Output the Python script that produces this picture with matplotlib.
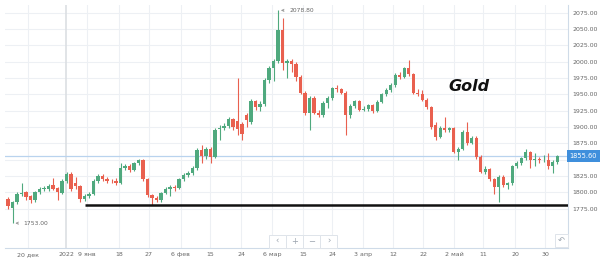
import numpy as np
import matplotlib
matplotlib.use("Agg")
import matplotlib.pyplot as plt
import matplotlib.transforms as mtransforms
from matplotlib.patches import Rectangle

# daily candles, gold futures, Dec 2021 - Jun 2022
opens = [1790, 1776, 1785, 1797, 1800, 1794, 1788, 1800, 1805, 1806,
         1812, 1807, 1799, 1818, 1829, 1815, 1810, 1790, 1795, 1798,
         1818, 1825, 1821, 1818, 1818, 1815, 1838, 1841, 1835, 1845,
         1850, 1820, 1796, 1792, 1788, 1799, 1805, 1809, 1807, 1820,
         1827, 1830, 1838, 1865, 1856, 1866, 1855, 1897, 1899, 1902,
         1912, 1910, 1905, 1918, 1908, 1940, 1931, 1936, 1972, 1990,
         2001, 2048, 1998, 2001, 1997, 1977, 1953, 1922, 1945, 1922,
         1919, 1937, 1945, 1960, 1958, 1953, 1918, 1932, 1940, 1927,
         1928, 1934, 1925, 1939, 1950, 1957, 1965, 1980, 1977, 1990,
         1981, 1953, 1950, 1942, 1931, 1903, 1885, 1899, 1896, 1898,
         1862, 1867, 1893, 1876, 1884, 1855, 1832, 1836, 1820, 1808,
         1824, 1812, 1814, 1840, 1845, 1853, 1862, 1850, 1851, 1849,
         1850, 1840, 1846]
highs = [1793, 1787, 1800, 1815, 1803, 1796, 1803, 1808, 1810, 1813,
         1822, 1809, 1820, 1831, 1831, 1824, 1812, 1797, 1800, 1821,
         1828, 1828, 1823, 1821, 1822, 1845, 1844, 1843, 1847, 1852,
         1852, 1822, 1798, 1795, 1801, 1808, 1812, 1812, 1822, 1830,
         1833, 1840, 1868, 1872, 1870, 1869, 1898, 1903, 1906, 1915,
         1914, 1975, 1908, 1922, 1943, 1942, 1940, 1975, 1993, 2005,
         2078.8, 2067, 2005, 2004, 1999, 1980, 1955, 1948, 1947, 1926,
         1940, 1948, 1962, 1964, 1960, 1956, 1936, 1942, 1941, 1932,
         1936, 1936, 1941, 1953, 1960, 1968, 1983, 1985, 1992, 2003,
         1983, 1959, 1957, 1944, 1933, 1908, 1901, 1915, 1900, 1900,
         1870, 1896, 1908, 1887, 1886, 1857, 1840, 1838, 1822, 1826,
         1827, 1816, 1842, 1848, 1855, 1866, 1864, 1860, 1855, 1858,
         1860, 1849, 1858]
lows = [1775, 1753, 1783, 1794, 1789, 1784, 1786, 1798, 1802, 1803,
        1804, 1788, 1797, 1815, 1803, 1806, 1786, 1787, 1791, 1796,
        1815, 1818, 1814, 1814, 1812, 1813, 1834, 1832, 1833, 1842,
        1818, 1793, 1781, 1785, 1786, 1797, 1795, 1803, 1805, 1817,
        1824, 1827, 1835, 1845, 1852, 1845, 1853, 1880, 1895, 1899,
        1895, 1888, 1880, 1900, 1905, 1926, 1925, 1933, 1968, 1970,
        1998, 1988, 1975, 1985, 1970, 1950, 1918, 1896, 1920, 1915,
        1916, 1930, 1942, 1954, 1950, 1888, 1914, 1929, 1925, 1924,
        1925, 1922, 1923, 1937, 1947, 1954, 1962, 1974, 1975, 1978,
        1950, 1948, 1940, 1928, 1897, 1880, 1883, 1893, 1893, 1860,
        1850, 1865, 1873, 1874, 1852, 1830, 1828, 1817, 1797, 1786,
        1808, 1806, 1812, 1837, 1842, 1850, 1838, 1840, 1845, 1846,
        1836, 1830, 1843]
closes = [1780, 1785, 1797, 1799, 1793, 1788, 1800, 1805, 1807, 1810,
          1806, 1800, 1818, 1829, 1806, 1810, 1790, 1795, 1798, 1818,
          1825, 1821, 1818, 1817, 1815, 1838, 1841, 1835, 1845, 1850,
          1820, 1796, 1791, 1788, 1799, 1806, 1809, 1807, 1820, 1827,
          1830, 1838, 1865, 1856, 1866, 1855, 1895, 1899, 1902, 1912,
          1900, 1897, 1890, 1911, 1940, 1931, 1936, 1972, 1990, 2001,
          2048, 1998, 2001, 1997, 1977, 1953, 1922, 1945, 1922, 1919,
          1937, 1945, 1960, 1958, 1953, 1918, 1932, 1940, 1927, 1928,
          1934, 1925, 1939, 1950, 1957, 1965, 1980, 1977, 1990, 1981,
          1953, 1950, 1942, 1931, 1900, 1885, 1899, 1896, 1898, 1862,
          1867, 1893, 1876, 1884, 1855, 1832, 1836, 1820, 1809, 1824,
          1812, 1814, 1840, 1845, 1853, 1862, 1850, 1851, 1849, 1850,
          1840, 1846, 1855.6]

tick_labels = ["20 дек", "2022", "9 янв", "18", "27", "6 фев", "15", "24",
               "6 мар", "15", "24", "3 апр", "12", "22", "2 май", "11",
               "20", "30"]
# tick positions in candle-index units
tick_pos = [4.4, 12.9, 17.6, 24.7, 31.3, 38.4, 44.9, 51.8, 58.7, 65.6,
            72.0, 78.9, 85.6, 92.2, 99.1, 105.6, 112.7, 119.3]
price_levels = [1775, 1800, 1825, 1850, 1875, 1900, 1925, 1950, 1975,
                2000, 2025, 2050, 2075]
last_price = 1855.60
support = 1781
max_price = 2078.80
min_price = 1753.00

GREEN = "#4fa97e"
RED = "#e9604f"
GRID = "#edf0f4"
AXIS = "#cfdbe8"
TXT = "#666666"

o = np.array(opens, dtype=float)
h = np.array(highs, dtype=float)
l = np.array(lows, dtype=float)
c = np.array(closes, dtype=float)
x = np.arange(len(c))
up = c >= o
colors = np.where(up, GREEN, RED)

W, H = 600, 266
fig = plt.figure(figsize=(6, 2.66), dpi=100)
ax = fig.add_axes([5 / W, 1 - 248 / H, 563 / W, 243 / H])
ax.set_xlim(-0.67, 124.4)
ax.set_ylim(1715, 2087)

for p in price_levels:
    ax.axhline(p, color=GRID, lw=0.8, zorder=0)
for tp, lab in zip(tick_pos, tick_labels):
    if lab == "2022":
        ax.axvline(tp, color="#dcdfe3", lw=1.2, zorder=0)
    else:
        ax.axvline(tp, color=GRID, lw=0.8, zorder=0)

ax.vlines(x, l, h, colors=colors, lw=0.8, zorder=2)
body = np.maximum(np.abs(c - o), 1.2)
ax.bar(x, body, bottom=np.minimum(o, c), width=0.72, color=colors,
       linewidth=0, zorder=3)

ax.axhline(last_price, color="#b9d3ee", lw=0.9, zorder=1)
ax.hlines(support, 17.2, 124.4, colors="#111111", lw=1.8, zorder=4)

ax.annotate(f"{max_price:.2f}", xy=(60, max_price), xytext=(62.5, max_price),
            fontsize=4.3, color=TXT, va="center",
            arrowprops=dict(arrowstyle="->", color="#999999", lw=0.6,
                            mutation_scale=4))
ax.annotate(f"{min_price:.2f}", xy=(1, min_price), xytext=(3.5, min_price),
            fontsize=4.3, color=TXT, va="center",
            arrowprops=dict(arrowstyle="->", color="#999999", lw=0.6,
                            mutation_scale=4))

ax.text(102.5, 1962, "Gold", fontsize=11.5, fontweight="bold",
        fontstyle="italic", color="#111111", ha="center", va="center")

for s in ["top", "left"]:
    ax.spines[s].set_visible(False)
for s in ["right", "bottom"]:
    ax.spines[s].set_color(AXIS)
    ax.spines[s].set_linewidth(0.8)

ax.yaxis.tick_right()
ax.set_yticks(price_levels)
ax.set_yticklabels([f"{p:.2f}" for p in price_levels])
ax.set_xticks(tick_pos)
ax.set_xticklabels(tick_labels)
ax.tick_params(axis="both", length=0, labelsize=4.5, labelcolor=TXT,
               pad=3)

# current price tag on the right axis
trans = mtransforms.blended_transform_factory(ax.transAxes, ax.transData)
ax.text(1.003, last_price, f"{last_price:.2f}", transform=trans,
        fontsize=4.8, color="white", va="center", ha="left",
        bbox=dict(boxstyle="square,pad=0.45", fc="#3f8fdc", ec="none"),
        zorder=6, clip_on=False)

# navigation buttons (pixel boxes, figure coords)
def button(x0, y0, w, h, sym, size=6):
    fig.add_artist(Rectangle((x0 / W, 1 - (y0 + h) / H), w / W, h / H,
                             transform=fig.transFigure, fc="white",
                             ec="#dfe4ea", lw=0.7, zorder=10))
    fig.text((x0 + w / 2) / W, 1 - (y0 + h / 2) / H, sym, fontsize=size,
             color="#9aa3ad", ha="center", va="center", zorder=11)

for i, sym in enumerate(["‹", "+", "−", "›"]):
    button(269 + i * 17, 235, 17, 13, sym)
button(555, 234, 13, 13, "↶")

fig.savefig("out.png", dpi=100, facecolor="white")
